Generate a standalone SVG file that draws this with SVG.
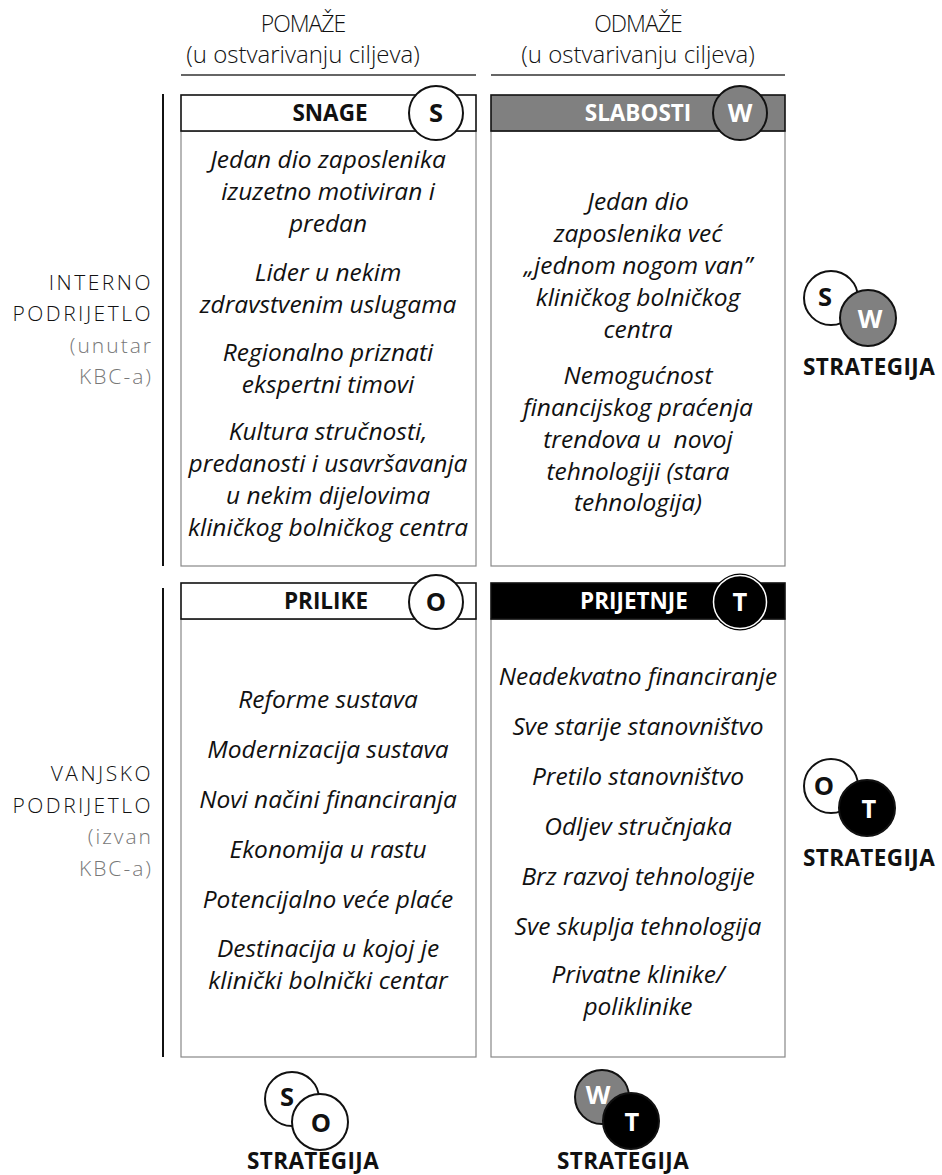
<svg xmlns="http://www.w3.org/2000/svg" width="942" height="1175" viewBox="0 0 942 1175">
  <style>
    .col { font-family: "Open Sans", "Liberation Sans", sans-serif; font-weight: 300; font-size: 24px; fill: #111; text-anchor: middle; }
    .col-title { font-size: 23px; letter-spacing: -1px; }
    .side { font-family: "Open Sans", "Liberation Sans", sans-serif; font-weight: 300; font-size: 21px; letter-spacing: 2.5px; fill: #111; text-anchor: end; }
    .side-sub { fill: #777; letter-spacing: 2px; }
    .body { font-family: "Open Sans", "Liberation Sans", sans-serif; font-style: italic; font-size: 24.5px; fill: #111; text-anchor: middle; }
    .head { font-family: "Open Sans", "Liberation Sans", sans-serif; font-weight: 700; font-size: 22.5px; text-anchor: middle; }
    .letter { font-family: "Open Sans", "Liberation Sans", sans-serif; font-weight: 700; font-size: 25.5px; text-anchor: middle; }
    .strat { font-family: "Open Sans", "Liberation Sans", sans-serif; font-weight: 700; font-size: 22.5px; letter-spacing: 0.4px; fill: #111; text-anchor: middle; }
    .panel { fill: #fff; stroke: #888; stroke-width: 1.2; }
    .bar { stroke: #111; stroke-width: 1.6; }
    .ring { stroke: #111; stroke-width: 2; }
    .rule { stroke: #333; stroke-width: 1.5; }
    .axis { stroke: #111; stroke-width: 2; }
  </style>

  <!-- column headings -->
  <g id="col-helps">
    <text class="col col-title" x="303" y="32">POMAŽE</text>
    <text class="col" x="303" y="63">(u ostvarivanju ciljeva)</text>
    <line class="rule" x1="181" y1="75" x2="476" y2="75"/>
  </g>
  <g id="col-hinders">
    <text class="col col-title" x="638" y="32">ODMAŽE</text>
    <text class="col" x="638" y="63">(u ostvarivanju ciljeva)</text>
    <line class="rule" x1="491" y1="75" x2="785" y2="75"/>
  </g>

  <!-- row headings -->
  <g id="row-internal">
    <line class="axis" x1="163" y1="94" x2="163" y2="566"/>
    <text class="side" x="153" y="290">INTERNO</text>
    <text class="side" x="153" y="321">PODRIJETLO</text>
    <text class="side side-sub" x="153" y="353">(unutar</text>
    <text class="side side-sub" x="153" y="384">KBC-a)</text>
  </g>
  <g id="row-external">
    <line class="axis" x1="163" y1="588" x2="163" y2="1057"/>
    <text class="side" x="153" y="781">VANJSKO</text>
    <text class="side" x="153" y="813">PODRIJETLO</text>
    <text class="side side-sub" x="153" y="844">(izvan</text>
    <text class="side side-sub" x="153" y="876">KBC-a)</text>
  </g>

  <!-- S: strengths -->
  <g id="strengths">
    <rect class="panel" x="181" y="131" width="295" height="435"/>
    <rect class="bar" x="181" y="95" width="295" height="36" fill="#fff"/>
    <text class="head" x="330" y="121" fill="#111">SNAGE</text>
    <circle class="ring" cx="436" cy="113" r="27" fill="#fff"/>
    <text class="letter" x="436" y="122" fill="#111">S</text>
    <g class="body">
      <text x="328" y="168">Jedan dio zaposlenika</text>
      <text x="328" y="200">izuzetno motiviran i</text>
      <text x="328" y="232">predan</text>
      <text x="328" y="281">Lider u nekim</text>
      <text x="328" y="313">zdravstvenim uslugama</text>
      <text x="328" y="361">Regionalno priznati</text>
      <text x="328" y="393">ekspertni timovi</text>
      <text x="328" y="440">Kultura stručnosti,</text>
      <text x="328" y="472">predanosti i usavršavanja</text>
      <text x="328" y="504">u nekim dijelovima</text>
      <text x="328" y="536">kliničkog bolničkog centra</text>
    </g>
  </g>

  <!-- W: weaknesses -->
  <g id="weaknesses">
    <rect class="panel" x="491" y="131" width="294" height="435"/>
    <rect class="bar" x="491" y="95" width="294" height="36" fill="#808080"/>
    <text class="head" x="638" y="121" fill="#fff">SLABOSTI</text>
    <circle class="ring" cx="740" cy="113" r="27" fill="#808080"/>
    <text class="letter" x="740" y="122" fill="#fff">W</text>
    <g class="body">
      <text x="638" y="210">Jedan dio</text>
      <text x="638" y="242">zaposlenika već</text>
      <text x="638" y="274">„jednom nogom van”</text>
      <text x="638" y="306">kliničkog bolničkog</text>
      <text x="638" y="338">centra</text>
      <text x="638" y="384">Nemogućnost</text>
      <text x="638" y="416">financijskog praćenja</text>
      <text x="638" y="448" xml:space="preserve">trendova u  novoj</text>
      <text x="638" y="480">tehnologiji (stara</text>
      <text x="638" y="511">tehnologija)</text>
    </g>
  </g>

  <!-- O: opportunities -->
  <g id="opportunities">
    <rect class="panel" x="181" y="619" width="295" height="438"/>
    <rect class="bar" x="181" y="583" width="295" height="36" fill="#fff"/>
    <text class="head" x="326" y="609" fill="#111">PRILIKE</text>
    <circle class="ring" cx="436" cy="602" r="27" fill="#fff"/>
    <text class="letter" x="436" y="611" fill="#111">O</text>
    <g class="body">
      <text x="328" y="708">Reforme sustava</text>
      <text x="328" y="758">Modernizacija sustava</text>
      <text x="328" y="808">Novi načini financiranja</text>
      <text x="328" y="858">Ekonomija u rastu</text>
      <text x="328" y="908">Potencijalno veće plaće</text>
      <text x="328" y="957">Destinacija u kojoj je</text>
      <text x="328" y="989">klinički bolnički centar</text>
    </g>
  </g>

  <!-- T: threats -->
  <g id="threats">
    <rect class="panel" x="491" y="619" width="294" height="438"/>
    <rect class="bar" x="491" y="583" width="294" height="36" fill="#000"/>
    <text class="head" x="634" y="609" fill="#fff">PRIJETNJE</text>
    <circle cx="740" cy="602" r="28.5" fill="#000"/>
    <circle cx="740" cy="602" r="26.5" fill="#000" stroke="#fff" stroke-width="1.5"/>
    <text class="letter" x="740" y="611" fill="#fff">T</text>
    <g class="body">
      <text x="638" y="685">Neadekvatno financiranje</text>
      <text x="638" y="735">Sve starije stanovništvo</text>
      <text x="638" y="785">Pretilo stanovništvo</text>
      <text x="638" y="835">Odljev stručnjaka</text>
      <text x="638" y="885">Brz razvoj tehnologije</text>
      <text x="638" y="935">Sve skuplja tehnologija</text>
      <text x="638" y="983">Privatne klinike/</text>
      <text x="638" y="1015">poliklinike</text>
    </g>
  </g>

  <!-- combined strategies -->
  <g id="strategy-sw">
    <circle class="ring" cx="831" cy="298" r="27" fill="#fff"/>
    <text class="letter" x="825" y="306" fill="#111">S</text>
    <circle class="ring" cx="868" cy="318" r="28" fill="#808080"/>
    <text class="letter" x="870" y="328" fill="#fff">W</text>
    <text class="strat" x="869" y="375">STRATEGIJA</text>
  </g>
  <g id="strategy-ot">
    <circle class="ring" cx="831" cy="786" r="27" fill="#fff"/>
    <text class="letter" x="824" y="795" fill="#111">O</text>
    <circle class="ring" cx="867" cy="808" r="28" fill="#000"/>
    <text class="letter" x="869" y="818" fill="#fff">T</text>
    <text class="strat" x="869" y="866">STRATEGIJA</text>
  </g>
  <g id="strategy-so">
    <circle class="ring" cx="292" cy="1099" r="27" fill="#fff"/>
    <text class="letter" x="287" y="1106" fill="#111">S</text>
    <circle class="ring" cx="320" cy="1122" r="28" fill="#fff"/>
    <text class="letter" x="321" y="1132" fill="#111">O</text>
    <text class="strat" x="313" y="1169">STRATEGIJA</text>
  </g>
  <g id="strategy-wt">
    <circle class="ring" cx="602" cy="1097" r="27" fill="#808080"/>
    <text class="letter" x="598" y="1104" fill="#fff">W</text>
    <circle class="ring" cx="631" cy="1121" r="28" fill="#000"/>
    <text class="letter" x="632" y="1131" fill="#fff">T</text>
    <text class="strat" x="623" y="1169">STRATEGIJA</text>
  </g>
</svg>
